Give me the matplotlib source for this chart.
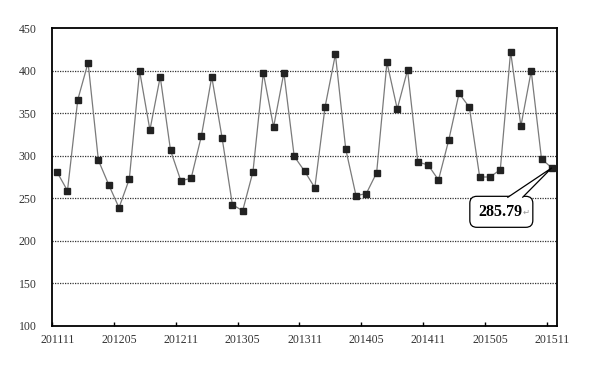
# -*- coding: utf-8 -*-
"""
Monthly series 201111 - 201511, line with square markers and
a callout on the last value.
"""

import matplotlib
matplotlib.use('Agg')
import matplotlib.pyplot as plt
from matplotlib.patches import FancyBboxPatch, Polygon
from matplotlib.transforms import Affine2D

# monthly values, 201111 .. 201511 (49 months)
values = [280.5, 258.9, 365.8, 409.3, 294.6, 266.0, 238.9, 272.6, 399.5, 330.2,
          392.7, 306.3, 270.6, 273.5, 323.5, 392.7, 321.2, 242.5, 235.4, 281.2,
          397.5, 333.7, 397.5, 299.3, 282.0, 262.4, 357.6, 419.1, 307.9, 253.0,
          255.6, 280.0, 409.7, 354.9, 400.7, 292.6, 289.1, 271.5, 318.5, 373.3,
          356.8, 275.0, 275.0, 283.6, 422.2, 334.9, 399.5, 296.1, 285.79]
tick_labels = ['201111', '201205', '201211', '201305', '201311',
               '201405', '201411', '201505', '201511']
yticks = [100, 150, 200, 250, 300, 350, 400, 450]
last_label = '285.79'

serif = ['Liberation Serif', 'DejaVu Serif']

fig = plt.figure(figsize=(6.0, 3.76), dpi=100)
ax = fig.add_axes([0.0867, 0.133, 0.8416, 0.7925])

n = len(values)
x = list(range(n))
ax.plot(x, values, color='#7a7a7a', lw=0.9, marker='s', markersize=4.3,
        markerfacecolor='#222222', markeredgecolor='#222222', zorder=3)

# axes
ax.set_xlim(-0.5, n - 0.5)
ax.set_ylim(100, 450)
ax.set_yticks(yticks)
ax.set_yticklabels([str(v) for v in yticks], family=serif, fontsize=8.5, color='#333333')
ax.set_xticks(x[::6])
ax.set_xticklabels(tick_labels, family=serif, fontsize=8.5, color='#333333')
ax.set_xticks([v - 0.5 for v in x[::6]], minor=True)
ax.tick_params(axis='x', which='major', length=0, pad=6)
ax.tick_params(axis='x', which='minor', direction='in', length=3, width=1, color='black')
ax.tick_params(axis='y', length=0, pad=11)
for s in ax.spines.values():
    s.set_color('black')
    s.set_linewidth(1.3)

# dotted horizontal grid
for v in yticks[1:-1]:
    ax.axhline(v, color='#333333', lw=0.9, ls=(0, (1, 1)), zorder=1)

# callout on the last point, drawn in pixel offsets from that point
px, py = ax.transData.transform((n - 1, values[-1]))
off = Affine2D().translate(px, py)
box = FancyBboxPatch((-82, -59.5), 63, 31, boxstyle='round,pad=0,rounding_size=7',
                     fc='white', ec='black', lw=0.9, transform=off, zorder=5,
                     clip_on=False)
ax.add_patch(box)
tail = Polygon([(-44.5, -29.8), (0, 0), (-29.5, -29.8)], closed=False,
               fc='white', ec='black', lw=0.9, transform=off, zorder=6,
               clip_on=False)
ax.add_patch(tail)
ax.annotate(last_label, xy=(n - 1, values[-1]), xytext=(-51, -44),
            textcoords='offset pixels', ha='center', va='center',
            family=serif, fontsize=11.5, fontweight='bold', zorder=7)
# paragraph mark after the value
ax.annotate('\u21b5', xy=(n - 1, values[-1]), xytext=(-26, -44),
            textcoords='offset pixels', ha='center', va='center',
            fontsize=6, color='#999999', zorder=7)

fig.savefig('out.png', dpi=100)
